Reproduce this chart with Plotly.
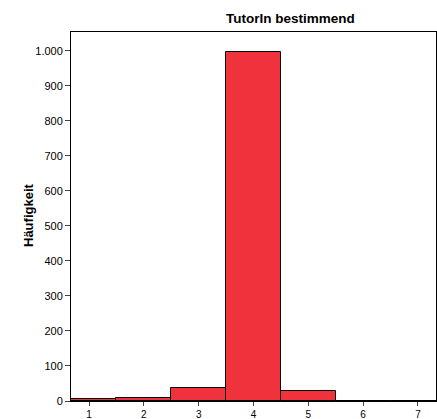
import plotly.graph_objects as go

categories = [1, 2, 3, 4, 5, 6, 7]
counts = [6, 10, 38, 997, 28, 1, 0]
y_ticks = [0, 100, 200, 300, 400, 500, 600, 700, 800, 900, 1000]
y_labels = ["0", "100", "200", "300", "400", "500", "600", "700", "800", "900", "1.000"]

fig = go.Figure(go.Bar(
    x=categories, y=counts, width=1,
    marker=dict(color="rgb(240,50,60)", line=dict(color="black", width=1)),
))

fig.update_layout(
    width=437, height=419,
    margin=dict(l=71, r=1, t=32, b=18),
    plot_bgcolor="white", paper_bgcolor="white",
    font=dict(family="Liberation Sans, Arial, sans-serif", color="black", size=11),
    showlegend=False,
    bargap=0,
    annotations=[dict(text="<b>TutorIn bestimmend</b>", x=(290 - 71) / 365, xref="paper",
                      y=1 + (32 - 18) / 369, yref="paper", showarrow=False,
                      xanchor="center", yanchor="middle", font=dict(size=13.5)),
                 dict(text="<b>Häufigkeit</b>", x=(28 - 71) / 365, xref="paper",
                      y=(401 - 215) / 369, yref="paper", showarrow=False, textangle=-90,
                      xanchor="center", yanchor="middle", font=dict(size=13))],
)

fig.update_xaxes(range=[0.67, 7.33], tickvals=categories, ticks="outside", ticklen=4,
                 showline=True, linecolor="black", linewidth=1, mirror=True, automargin=False,
                 showgrid=False, zeroline=False, tickfont=dict(size=10))
fig.update_yaxes(range=[0, 1054], tickvals=y_ticks, ticktext=y_labels, ticks="outside", ticklen=5,
                 showline=True, linecolor="black", linewidth=1, mirror=True, automargin=False,
                 showgrid=False, zeroline=False, tickfont=dict(size=11))

fig.write_html("out.html", config={"displayModeBar": False},
               post_script="document.body.style.margin='0';document.body.style.overflow='hidden';")
